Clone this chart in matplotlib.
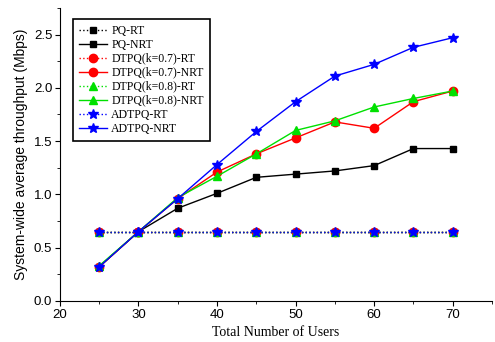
import matplotlib
matplotlib.use('Agg')
import matplotlib.pyplot as plt
from matplotlib.ticker import MultipleLocator

users = [25, 30, 35, 40, 45, 50, 55, 60, 65, 70]
rt = [0.65] * 10
pq_nrt = [0.32, 0.65, 0.87, 1.01, 1.16, 1.19, 1.22, 1.27, 1.43, 1.43]
dtpq07_nrt = [0.32, 0.65, 0.96, 1.21, 1.38, 1.53, 1.68, 1.62, 1.87, 1.97]
dtpq08_nrt = [0.33, 0.65, 0.97, 1.17, 1.38, 1.60, 1.69, 1.82, 1.90, 1.97]
adtpq_nrt = [0.32, 0.65, 0.96, 1.28, 1.59, 1.87, 2.11, 2.22, 2.38, 2.47]

serif = ['Liberation Serif', 'DejaVu Serif']
plt.rcParams['font.family'] = ['Liberation Sans', 'DejaVu Sans']

fig = plt.figure(figsize=(4.95, 3.42), dpi=100)
ax = fig.add_axes([0.121, 0.12, 0.873, 0.857])

series = [
    ('PQ', 'black', 's', rt, pq_nrt, 5),
    ('DTPQ(k=0.7)', 'red', 'o', rt, dtpq07_nrt, 6),
    ('DTPQ(k=0.8)', '#00e000', '^', rt, dtpq08_nrt, 6),
    ('ADTPQ', 'blue', '*', rt, adtpq_nrt, 7.5),
]
for name, c, m, y_rt, y_nrt, ms in series:
    ax.plot(users, y_rt, ls=':', color=c, marker=m, ms=ms, lw=1, label=name + '-RT')
    ax.plot(users, y_nrt, ls='-', color=c, marker=m, ms=ms, lw=1, label=name + '-NRT')

ax.set_xlim(20, 75)
ax.set_ylim(0, 2.75)
ax.xaxis.set_major_locator(MultipleLocator(10))
ax.xaxis.set_minor_locator(MultipleLocator(5))
ax.yaxis.set_major_locator(MultipleLocator(0.5))
ax.yaxis.set_minor_locator(MultipleLocator(0.25))
ax.yaxis.set_major_formatter(matplotlib.ticker.FormatStrFormatter('%.1f'))
ax.spines['top'].set_visible(False)
ax.spines['right'].set_visible(False)
ax.tick_params(which='major', length=3.5, labelsize=9.5, pad=2)
ax.tick_params(which='minor', length=2)

ax.set_xlabel('Total Number of Users', family=serif, fontsize=10, labelpad=4)
ax.set_ylabel('System-wide average throughput (Mbps)', fontsize=10, labelpad=4)

leg = ax.legend(loc='upper left', bbox_to_anchor=(0.03, 0.9625), prop={'family': serif, 'size': 8.5},
                fancybox=False, edgecolor='black', framealpha=1, handlelength=2.4,
                handletextpad=0.35, labelspacing=0.17, borderpad=0.5, borderaxespad=0)
leg.get_frame().set_linewidth(1.2)

plt.savefig('out.png', dpi=100)
plt.close()
